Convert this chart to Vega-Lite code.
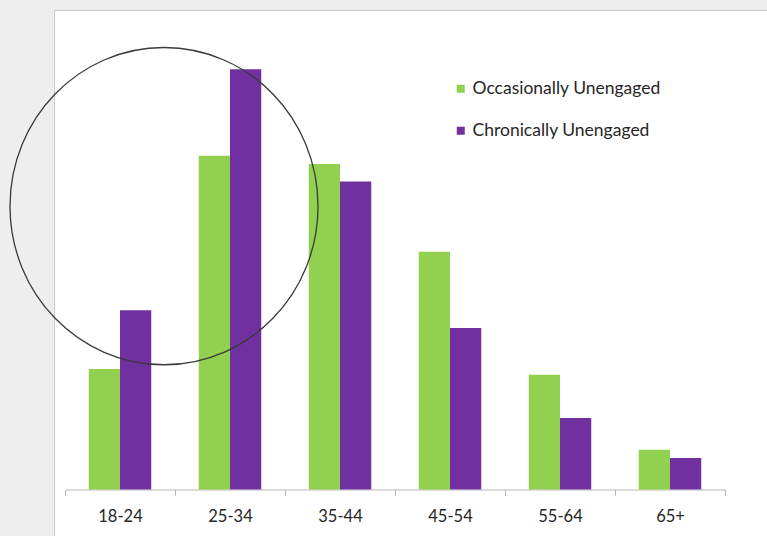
{
  "$schema": "https://vega.github.io/schema/vega-lite/v6.json",
  "autosize": "none",
  "width": 713,
  "height": 526,
  "padding": {"left": 54, "top": 10, "right": 0, "bottom": 0},
  "background": "#eeeeee",
  "config": {
    "font": "Lato",
    "view": {"fill": "#ffffff", "stroke": "#c8c8c8", "strokeWidth": 1}
  },
  "layer": [
    {
      "data": {
        "values": [
          {"age": "18-24", "group": "Occasionally Unengaged", "pct": 10.3},
          {"age": "18-24", "group": "Chronically Unengaged", "pct": 15.3},
          {"age": "25-34", "group": "Occasionally Unengaged", "pct": 28.5},
          {"age": "25-34", "group": "Chronically Unengaged", "pct": 35.9},
          {"age": "35-44", "group": "Occasionally Unengaged", "pct": 27.8},
          {"age": "35-44", "group": "Chronically Unengaged", "pct": 26.3},
          {"age": "45-54", "group": "Occasionally Unengaged", "pct": 20.3},
          {"age": "45-54", "group": "Chronically Unengaged", "pct": 13.8},
          {"age": "55-64", "group": "Occasionally Unengaged", "pct": 9.8},
          {"age": "55-64", "group": "Chronically Unengaged", "pct": 6.1},
          {"age": "65+", "group": "Occasionally Unengaged", "pct": 3.4},
          {"age": "65+", "group": "Chronically Unengaged", "pct": 2.7}
        ]
      },
      "mark": {"type": "bar"},
      "encoding": {
        "x": {
          "field": "age",
          "type": "nominal",
          "sort": null,
          "scale": {"range": [11, 671], "paddingInner": 0, "paddingOuter": 0},
          "axis": {
            "title": null,
            "offset": -46.5,
            "labelAngle": 0,
            "labelFontSize": 16.5,
            "labelColor": "#262626",
            "labelPadding": 13,
            "domainColor": "#b8b8b8",
            "tickColor": "#b8b8b8",
            "tickSize": 6,
            "tickBand": "extent"
          }
        },
        "xOffset": {
          "field": "group",
          "type": "nominal",
          "sort": ["Occasionally Unengaged", "Chronically Unengaged"],
          "scale": {"paddingInner": 0, "paddingOuter": 0.76}
        },
        "y": {
          "field": "pct",
          "type": "quantitative",
          "scale": {"domain": [-3.97, 40.95], "nice": false, "zero": false},
          "axis": null
        },
        "y2": {"datum": 0},
        "color": {
          "field": "group",
          "type": "nominal",
          "scale": {
            "domain": ["Occasionally Unengaged", "Chronically Unengaged"],
            "range": ["#92d050", "#7030a0"]
          },
          "legend": {
            "title": null,
            "orient": "none",
            "legendX": 398,
            "legendY": 70,
            "padding": 0,
            "symbolType": "square",
            "symbolSize": 64,
            "symbolOpacity": 1,
            "labelFontSize": 17.5,
            "labelLimit": 0,
            "labelColor": "#262626",
            "labelOffset": 3,
            "rowPadding": 23
          }
        }
      }
    },
    {
      "data": {"values": [{"pos": 0.9, "level": 24.2}]},
      "mark": {
        "type": "point",
        "shape": "M -1 0 A 1 1.03 0 1 1 1 0 A 1 1.03 0 1 1 -1 0 Z",
        "filled": false,
        "size": 94864,
        "stroke": "#3a3a3a",
        "strokeWidth": 1.3,
        "opacity": 1
      },
      "encoding": {
        "x": {
          "field": "pos",
          "type": "quantitative",
          "scale": {"domain": [0, 6], "range": [11, 671], "nice": false, "zero": false},
          "axis": null
        },
        "y": {"field": "level", "type": "quantitative"}
      }
    }
  ],
  "resolve": {"scale": {"x": "independent"}}
}
